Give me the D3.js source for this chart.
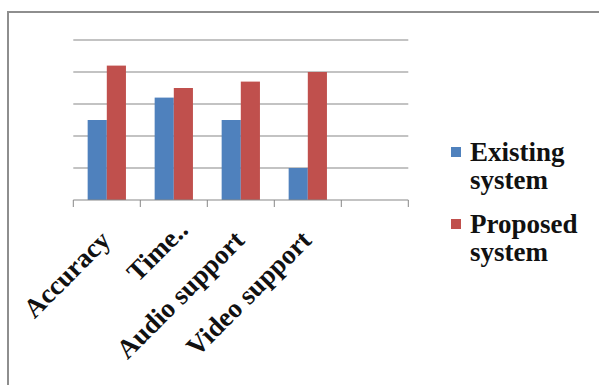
<!DOCTYPE html>
<html>
<head>
<meta charset="utf-8">
<script src="https://cdn.jsdelivr.net/npm/d3@7"></script>
<style>
  html, body { margin: 0; padding: 0; background: #fff; }
  svg { display: block; }
</style>
</head>
<body>
<svg id="chart" width="599" height="385"></svg>
<script>
// Categories (the last slot is left empty on the axis)
const categories = ["Accuracy", "Time..", "Audio support", "Video support", ""];
const existingSystem = [2.5, 3.2, 2.5, 1.0, null];
const proposedSystem = [4.2, 3.5, 3.7, 4.0, null];
const seriesNames = ["Existing system", "Proposed system"];
const seriesColors = ["#4F81BD", "#C0504D"];
const gridTicks = [1, 2, 3, 4, 5];

const svg = d3.select("#chart");

// Outer frame (top and left edges visible)
svg.append("path")
  .attr("d", "M8,385 V12 H599")
  .attr("fill", "none")
  .attr("stroke", "#8e8e8e")
  .attr("stroke-width", 2);

const plot = { left: 73.3, right: 408.3, top: 40, bottom: 200 };

const x = d3.scaleBand()
  .domain(d3.range(categories.length))
  .range([plot.left, plot.right])
  .paddingInner(0)
  .paddingOuter(0);

const y = d3.scaleLinear().domain([0, 5]).range([plot.bottom, plot.top]);

// Horizontal gridlines
svg.append("g").selectAll("line")
  .data(gridTicks)
  .join("line")
  .attr("x1", plot.left).attr("x2", plot.right)
  .attr("y1", d => y(d)).attr("y2", d => y(d))
  .attr("stroke", "#878787")
  .attr("stroke-width", 1);

// Clustered bars: gap width 150% of a bar
const barW = x.bandwidth() / 3.5;
const groupOffset = (x.bandwidth() - 2 * barW) / 2;
const series = [existingSystem, proposedSystem];

series.forEach((vals, si) => {
  svg.append("g").selectAll("rect")
    .data(vals.map((v, i) => ({ v, i })).filter(d => d.v != null))
    .join("rect")
    .attr("x", d => x(d.i) + groupOffset + si * barW)
    .attr("y", d => y(d.v))
    .attr("width", barW)
    .attr("height", d => y(0) - y(d.v))
    .attr("fill", seriesColors[si]);
});

// Category axis with tick marks between categories
const axisG = svg.append("g");
axisG.append("line")
  .attr("x1", plot.left).attr("x2", plot.right)
  .attr("y1", y(0)).attr("y2", y(0))
  .attr("stroke", "#878787");
const boundaries = d3.range(categories.length + 1).map(i => plot.left + i * x.bandwidth());
axisG.selectAll("line.tick")
  .data(boundaries)
  .join("line")
  .attr("class", "tick")
  .attr("x1", d => d).attr("x2", d => d)
  .attr("y1", y(0)).attr("y2", y(0) + 7)
  .attr("stroke", "#878787");

// Rotated category labels; truncated labels ("..") sit a little further along
axisG.selectAll("text")
  .data(categories.map((c, i) => ({ c, i })).filter(d => d.c))
  .join("text")
  .attr("transform", d => `translate(${x(d.i) + x.bandwidth() / 2 + 5},${y(0) + 42}) rotate(-45)`)
  .attr("dx", d => d.c.endsWith("..") ? 15 : 0)
  .attr("text-anchor", "end")
  .attr("font-family", "'Liberation Serif', 'Times New Roman', serif")
  .attr("font-weight", "bold")
  .attr("font-size", 27)
  .attr("fill", "#111")
  .text(d => d.c);

// Legend
const legend = svg.append("g");
const legendItems = [
  { lines: ["Existing", "system"], color: seriesColors[0], top: 161 },
  { lines: ["Proposed", "system"], color: seriesColors[1], top: 233 }
];
legendItems.forEach((item, idx) => {
  legend.append("rect")
    .attr("x", 451).attr("y", item.top - 14)
    .attr("width", 10).attr("height", 10)
    .attr("fill", item.color);
  const t = legend.append("text")
    .attr("x", 470).attr("y", item.top)
    .attr("font-family", "'Liberation Serif', 'Times New Roman', serif")
    .attr("font-weight", "bold")
    .attr("font-size", 27)
    .attr("fill", "#111")
    .attr("aria-label", seriesNames[idx]);
  item.lines.forEach((ln, li) => {
    t.append("tspan").attr("x", 470).attr("dy", li === 0 ? 0 : 28).text(ln);
  });
});
</script>
</body>
</html>
